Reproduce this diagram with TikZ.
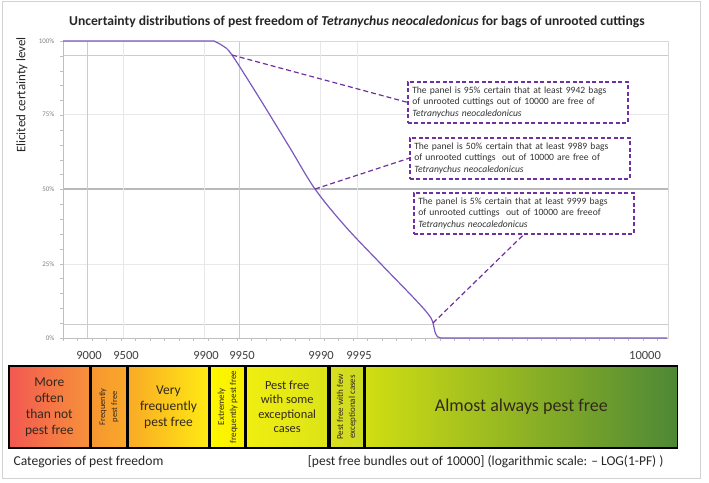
\documentclass[tikz,border=0pt]{standalone}
\usepackage{fontspec}
\setmainfont{Carlito}
\usepackage{xcolor}
\usetikzlibrary{positioning}

\definecolor{curvepurple}{RGB}{122,88,190}
\definecolor{boxpurple}{RGB}{112,48,160}
\definecolor{bartext}{RGB}{50,40,30}

\begin{document}
\begin{tikzpicture}[x=1pt,y=-1pt,
  gridlight/.style={draw=gray!18,line width=0.8pt},
  griddark/.style={draw=gray!40,line width=0.9pt},
  infobox/.style={draw=boxpurple,dash pattern=on 4pt off 2.5pt,line width=1.5pt,fill=white,anchor=north west,
    text width=211pt,minimum height=41pt,inner sep=4.5pt,align=left,
    font=\fontsize{9.6}{11.2}\selectfont,text=black!80},
  leader/.style={draw=boxpurple,dash pattern=on 5pt off 3pt,line width=1.2pt},
  catbox/.style={draw=black,line width=1.6pt,minimum height=82pt,inner sep=0pt,
    align=center,text=bartext},
  sidetext/.style={rotate=90,align=center,text=bartext,font=\fontsize{9}{12}\selectfont},
  ticklab/.style={anchor=east,text=gray,font=\fontsize{7}{8}\selectfont},
  xlab/.style={text=black!75,font=\fontsize{12.5}{14}\selectfont}]
 	\useasboundingbox (0,0) rectangle (709,482);
 	\draw[gray!35,line width=1pt] (2,1.5) rectangle (700,478);
 	% title
 	\node[font=\bfseries\fontsize{13.6}{15}\selectfont,text=black!85] (title) at (357,22) {Uncertainty distributions of pest freedom of \textit{Tetranychus neocaledonicus} for bags of unrooted cuttings};
 	\node[rotate=90,font=\fontsize{13}{15}\selectfont,text=black!85] (ylab) at (22,95) {Elicited certainty level};
 	% grid
 	\draw[gridlight] (63,114) -- (668,114);
 	\draw[gridlight] (63,264) -- (668,264);
 	\draw[griddark] (63,55) -- (668,55);
 	\draw[griddark] (63,324) -- (668,324);
 	\draw[draw=gray!55,line width=1.2pt] (63,189) -- (668,189);
 	\draw[griddark] (87,41) -- (87,338);
 	\draw[gridlight] (123,41) -- (123,338);
 	\draw[gridlight] (204,41) -- (204,338);
 	\draw[griddark] (239,41) -- (239,338);
 	\draw[gridlight] (320,41) -- (320,338);
 	\draw[gridlight] (357,41) -- (357,338);
 	\draw[gray!30,line width=0.8pt] (63,41) rectangle (668,338);
 	\draw[gray!50,line width=0.8pt] (63,41) -- (63,338) -- (668,338);
 	\foreach \k in {0,...,20}
 		\draw[gray!50] (60,41+14.85*\k) -- (63,41+14.85*\k);
 	\foreach \k in {0,...,41}
 		\draw[gray!50] (63+14.5*\k,338) -- (63+14.5*\k,341);
 	\node[ticklab] (t100) at (58,41) {100\%};
 	\node[ticklab] (t75) at (58,114) {75\%};
 	\node[ticklab] (t50) at (58,189) {50\%};
 	\node[ticklab] (t25) at (58,264) {25\%};
 	\node[ticklab] (t0) at (58,338) {0\%};
 	% x labels
 	\node[xlab] (x9000) at (89,355) {9000};
 	\node[xlab] (x9500) at (126,355) {9500};
 	\node[xlab] (x9900) at (206,355) {9900};
 	\node[xlab] (x9950) at (242,355) {9950};
 	\node[xlab] (x9990) at (321,355) {9990};
 	\node[xlab] (x9995) at (359,355) {9995};
 	\node[xlab] (x10000) at (645,355) {10000};
 	% curve
 	\draw[curvepurple,line width=1.2pt,line join=round] (63,41) -- (214,41)
 		-- plot[smooth,tension=0.55] coordinates {(214,41) (223,46) (232,55) (260,99) (290,148) (315,189) (345,226) (380,263) (410,294) (424,309) (431,318) (433,323)}
 		.. controls (435,331) and (435,338) .. (441,338) -- (667,338);
 	\coordinate (p95) at (232,55);
 	\coordinate (p50) at (315,189);
 	\coordinate (p5) at (433,323);
 	% boxes
 	\node[infobox] (box95) at (407,81) {The panel is 95\% certain that at least 9942 bags\\ of unrooted cuttings out of 10000 are free of\\ \textit{Tetranychus neocaledonicus}};
 	\node[infobox] (box50) at (409,137) {The panel is 50\% certain that at least 9989 bags\\ of unrooted cuttings\ \ out of 10000 are free of\\ \textit{Tetranychus neocaledonicus}};
 	\node[infobox] (box5) at (413,192) {The panel is 5\% certain that at least 9999 bags\\ of unrooted cuttings\ \ out of 10000 are freeof\\ \textit{Tetranychus neocaledonicus}};
 	\draw[leader] (p95) -- (box95.west);
 	\draw[leader] (p50) -- (box50.west);
 	\draw[leader] (p5) -- (box5.south);
 	% categories
 	\node[catbox,anchor=north west,minimum width=81pt,left color={rgb,255:red,242;green,88;blue,82},right color={rgb,255:red,246;green,146;blue,58},font=\fontsize{13.5}{16}\selectfont] (cat1) at (8,365) {More\\often\\than not\\pest free};
 	\node[catbox,right=0pt of cat1,minimum width=35pt,left color={rgb,255:red,246;green,150;blue,48},right color={rgb,255:red,249;green,168;blue,42}] (cat2) {};
 	\node[catbox,right=0pt of cat2,minimum width=81pt,left color={rgb,255:red,249;green,170;blue,38},right color={rgb,255:red,255;green,234;blue,18},font=\fontsize{13.5}{16}\selectfont] (cat3) {Very\\frequently\\pest free};
 	\node[catbox,right=0pt of cat3,minimum width=34pt,left color={rgb,255:red,255;green,246;blue,0},right color={rgb,255:red,246;green,240;blue,0}] (cat4) {};
 	\node[catbox,right=0pt of cat4,minimum width=82pt,left color={rgb,255:red,240;green,238;blue,16},right color={rgb,255:red,220;green,228;blue,24},font=\fontsize{12.4}{14.5}\selectfont] (cat5) {Pest free\\with some\\exceptional\\cases};
 	\node[catbox,right=0pt of cat5,minimum width=34pt,left color={rgb,255:red,216;green,224;blue,30},right color={rgb,255:red,204;green,218;blue,32}] (cat6) {};
 	\node[catbox,right=0pt of cat6,minimum width=312pt,left color={rgb,255:red,208;green,222;blue,18},right color={rgb,255:red,78;green,136;blue,54},font=\fontsize{18}{20}\selectfont] (cat7) {Almost always pest free};
 	\node[sidetext,font=\fontsize{8.5}{12}\selectfont] (lab2) at (cat2.center) {Frequently\\pest free};
 	\node[sidetext] (lab4) at (cat4.center) {Extremely\\frequently pest free};
 	\node[sidetext] (lab6) at (cat6.center) {Pest free with few\\exceptional cases};
 	\node[anchor=west,font=\fontsize{13.6}{15}\selectfont,text=black!85] (catname) at (10,462) {Categories of pest freedom};
 	\node[anchor=east,font=\fontsize{13.5}{15}\selectfont,text=black!85] (scale) at (667,462) {[pest free bundles out of 10000] (logarithmic scale: -- LOG(1-PF) )};
 \end{tikzpicture}
\end{document}
